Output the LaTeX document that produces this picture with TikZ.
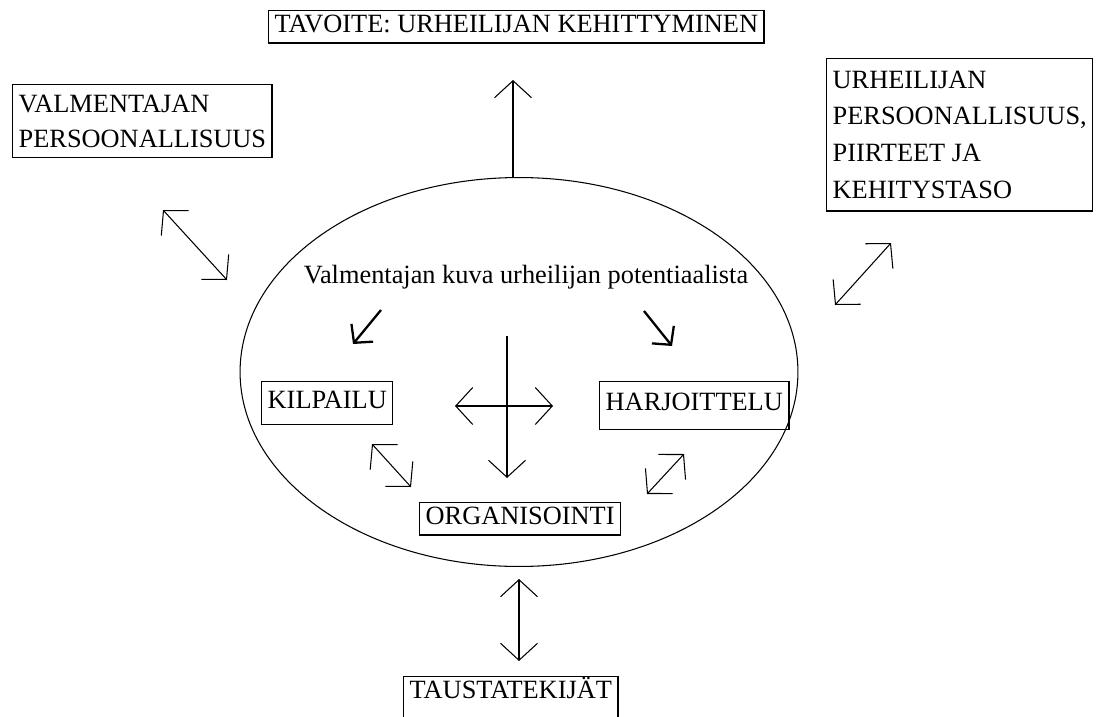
\documentclass[tikz,border=0pt]{standalone}
\usepackage{fontspec}
\setmainfont{Liberation Serif}
\usetikzlibrary{arrows.meta,shapes.geometric}

\begin{document}
\begin{tikzpicture}[
  x=0.02cm,y=-0.02cm,
  font=\fontsize{15}{20}\selectfont,
  box/.style={draw,line width=0.8pt,anchor=north west,inner xsep=0.12cm,
              inner ysep=0.19cm,text height=0.68em,text depth=0.08em},
  mbox/.style={draw,line width=0.8pt,anchor=north west,align=left,
               inner xsep=0.12cm,inner ysep=0.2cm},
  ar/.style={-{Straight Barb[length=0.34cm,width=0.74cm]},line width=0.6pt},
  dar/.style={{Straight Barb[length=0.34cm,width=0.74cm]}-{Straight Barb[length=0.34cm,width=0.74cm]},
              line width=0.6pt},
  pt/.style={-{Straight Barb[length=0.26cm,width=0.56cm]},line width=1.3pt},
]
\useasboundingbox (0,0) rectangle (1111,716);

% ---- Outer boxes
\node[box] (goal) at (268,10) {TAVOITE: URHEILIJAN KEHITTYMINEN};
\node[mbox] (coach) at (12,84) {VALMENTAJAN\\PERSOONALLISUUS};
\node[mbox,font=\fontsize{15}{21}\selectfont,inner ysep=0.24cm] (athl) at (826,58)
     {URHEILIJAN\\PERSOONALLISUUS,\\PIIRTEET JA\\KEHITYSTASO};
\node[box,text depth=0.6em] (taus) at (403,676) {TAUSTATEKIJÄT};

% ---- Ellipse and its contents
\node[draw,ellipse,line width=0.6pt,minimum width=11.16cm,minimum height=7.78cm,
      inner sep=0] (pot) at (519,372) {};
\node[anchor=base] (img) at (526,283) {Valmentajan kuva urheilijan potentiaalista};
\node[box,minimum height=0.86cm] (kil) at (261,381) {KILPAILU};
\node[box,minimum height=0.96cm] (harj) at (599,381) {HARJOITTELU};
\node[box] (org) at (419,502) {ORGANISOINTI};

% ---- Arrow ends
\coordinate (upA) at (513,177);  \coordinate (upB) at (513,80);
\coordinate (lA) at (163,210);   \coordinate (lB) at (227,280);
\coordinate (rA) at (835,305);   \coordinate (rB) at (891,243);
\coordinate (kA) at (381,310);   \coordinate (kB) at (353,344);
\coordinate (hA) at (644,311);   \coordinate (hB) at (672,346);
\coordinate (xA) at (455,406);   \coordinate (xB) at (553,406);
\coordinate (vA) at (507,336);   \coordinate (vB) at (507,478);
\coordinate (koA) at (372,444);  \coordinate (koB) at (411,487);
\coordinate (hoA) at (684,454);  \coordinate (hoB) at (647,494);
\coordinate (bA) at (519,579);   \coordinate (bB) at (519,661);

% ---- Arrows
\draw[ar] (upA) -- (upB);
\draw[dar] (lA) -- (lB);
\draw[dar] (rA) -- (rB);
\draw[pt] (kA) -- (kB);
\draw[pt] (hA) -- (hB);
\draw[dar] (xA) -- (xB);
\draw[ar] (vA) -- (vB);
\draw[dar] (koA) -- (koB);
\draw[dar] (hoA) -- (hoB);
\draw[dar] (bA) -- (bB);

\end{tikzpicture}
\end{document}
